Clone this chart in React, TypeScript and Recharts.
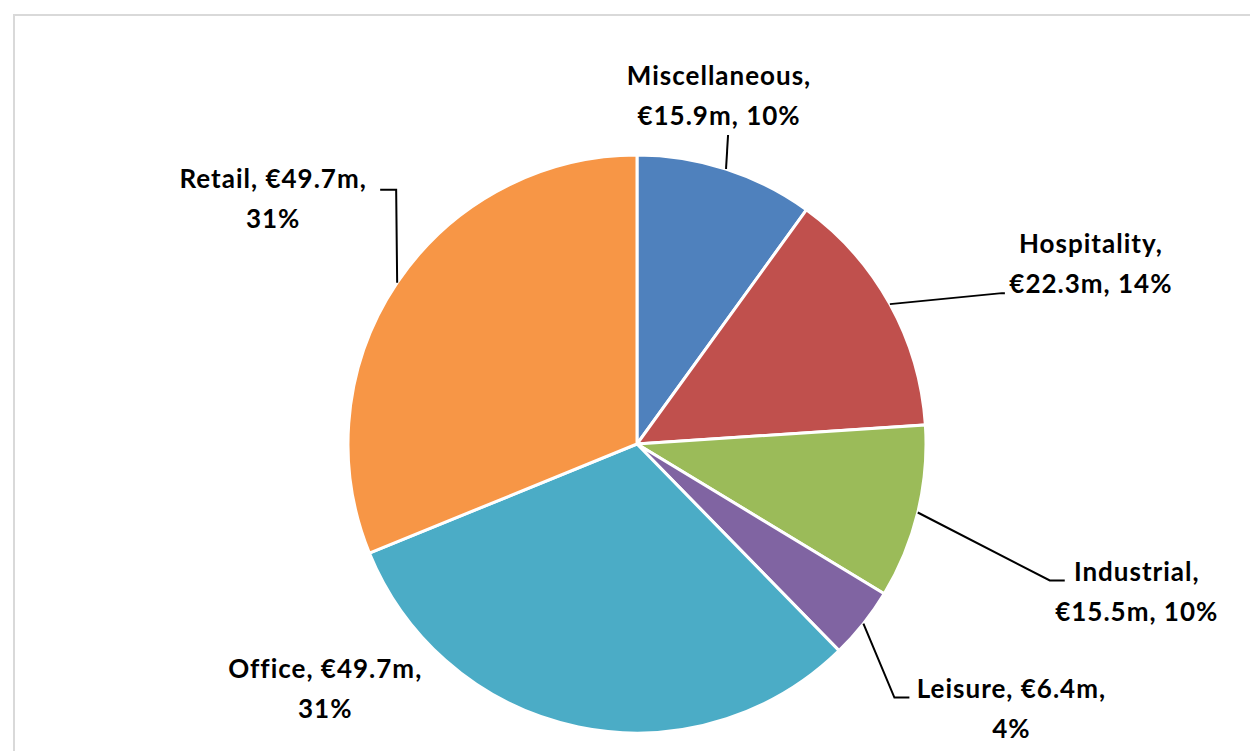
import { PieChart, Pie, Cell } from "recharts";

const categories = ["Miscellaneous", "Hospitality", "Industrial", "Leisure", "Office", "Retail"];
const valuesM = [15.9, 22.3, 15.5, 6.4, 49.7, 49.7];
const colors = ["#4F81BD", "#C0504D", "#9BBB59", "#8064A2", "#4BACC6", "#F79646"];

// label placement, relative to the point where each slice's middle meets the rim
const labelLayout: Record<string, { leader: number[][]; text: number[] }> = {
  Miscellaneous: { leader: [[2, -34]], text: [-7, -84] },
  Hospitality: { leader: [[112, -11], [115, -11]], text: [201, -51] },
  Industrial: { leader: [[132, 68], [147, 68]], text: [219, 68] },
  Leisure: { leader: [[31, 74], [46, 74]], text: [148, 74] },
  Office: { leader: [], text: [-253, -49] },
  Retail: { leader: [[-1, -93], [-17, -93]], text: [-124, -95] },
};

const data = categories.map((name, i) => ({ name, value: valuesM[i] }));

const RAD = Math.PI / 180;

function renderLabel(props: any) {
  const { cx, cy, midAngle, outerRadius, name, value, percent } = props;
  const ex = cx + outerRadius * Math.cos(-midAngle * RAD);
  const ey = cy + outerRadius * Math.sin(-midAngle * RAD);
  const lay = labelLayout[name];
  const pts = [[ex, ey], ...lay.leader.map(([dx, dy]) => [ex + dx, ey + dy])];
  const tx = ex + lay.text[0];
  const ty = ey + lay.text[1];
  const pct = `${Math.round(percent * 100)}%`;
  const nameOnTop = name === "Miscellaneous" || name === "Hospitality" || name === "Industrial";
  const line1 = nameOnTop ? `${name},` : `${name}, €${value}m,`;
  const line2 = nameOnTop ? `€${value}m, ${pct}` : pct;
  return (
    <g>
      {pts.length > 1 && (
        <polyline
          points={pts.map((p) => p.join(",")).join(" ")}
          fill="none"
          stroke="#000"
          strokeWidth={2}
        />
      )}
      <text
        x={tx}
        y={ty}
        textAnchor="middle"
        fill="#000"
        fontFamily="Lato, sans-serif"
        fontWeight="bold"
        fontSize={26}
        letterSpacing={1}
      >
        <tspan x={tx} y={ty}>{line1}</tspan>
        <tspan x={tx} y={ty + 40}>{line2}</tspan>
      </text>
    </g>
  );
}

export default function App() {
  return (
    <div
      style={{
        position: "absolute",
        left: 0,
        top: 0,
        width: 1250,
        height: 751,
        overflow: "hidden",
        background: "#fff",
      }}
    >
      <div
        style={{
          position: "absolute",
          left: 13,
          top: 14,
          width: 1300,
          height: 800,
          border: "2px solid #d9d9d9",
        }}
      />
      <PieChart width={1250} height={751} margin={{ top: 0, right: 0, bottom: 0, left: 0 }}>
        <Pie
          data={data}
          dataKey="value"
          nameKey="name"
          cx={637}
          cy={444}
          outerRadius={289}
          startAngle={90}
          endAngle={-270}
          stroke="#fff"
          strokeWidth={3}
          label={renderLabel}
          labelLine={false}
          isAnimationActive={false}
        >
          {data.map((d, i) => (
            <Cell key={d.name} fill={colors[i]} />
          ))}
        </Pie>
      </PieChart>
    </div>
  );
}
